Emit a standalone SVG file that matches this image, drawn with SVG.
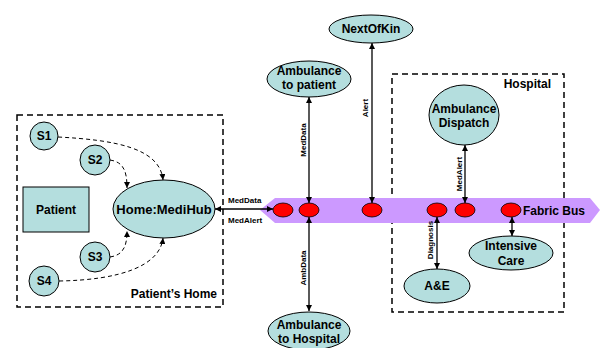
<svg xmlns="http://www.w3.org/2000/svg" width="602" height="348" viewBox="0 0 602 348">
<defs>
<style>
.node{fill:#b4dede;stroke:#000;stroke-width:1}
.t{font-family:"Liberation Sans",Arial,sans-serif;font-weight:bold;font-size:12px;fill:#000;text-anchor:middle}
.sm{font-family:"Liberation Sans",Arial,sans-serif;font-weight:bold;font-size:8px;fill:#000}
.rot{font-family:"Liberation Sans",Arial,sans-serif;font-weight:bold;font-size:8px;fill:#000;text-anchor:middle}
.box{fill:none;stroke:#000;stroke-width:1.5;stroke-dasharray:6,4}
.dash{fill:none;stroke:#000;stroke-width:1;stroke-dasharray:4,3}
.line{fill:none;stroke:#000;stroke-width:1.3}
.port{fill:#f00;stroke:#000;stroke-width:0.8}
</style>
<marker id="ah" viewBox="0 0 10 10" refX="10" refY="5" markerWidth="6" markerHeight="6" orient="auto-start-reverse" markerUnits="userSpaceOnUse">
<path d="M0,0 L10,5 L0,10 z" fill="#000"/>
</marker>
</defs>
<rect width="602" height="348" fill="#fff"/>

<g id="patients-home">
<rect class="box" x="17" y="115" width="206" height="192"/>
<text class="t" x="217" y="298" style="text-anchor:end">Patient’s Home</text>
</g>
<g id="hospital">
<rect class="box" x="392" y="74" width="172" height="238"/>
<text class="t" x="551" y="88" style="text-anchor:end">Hospital</text>
</g>

<g id="fabric-bus">
<polygon points="260,210 275,198 590,198 600,210 590,223 275,223" fill="#cc99ff"/>
<text class="t" x="523" y="215" style="text-anchor:start">Fabric Bus</text>
</g>

<g id="connectors">
<path class="dash" d="M58,137 C115,140 160,148 163,180" marker-end="url(#ah)"/>
<path class="dash" d="M110,160 C124,162 127,172 127,188" marker-end="url(#ah)"/>
<path class="dash" d="M110,257 C124,255 127,245 127,231" marker-end="url(#ah)"/>
<path class="dash" d="M59,281 C120,280 160,266 163,238" marker-end="url(#ah)"/>
<line class="line" x1="215" y1="209" x2="273" y2="209" marker-start="url(#ah)" marker-end="url(#ah)"/>
<line class="line" x1="309" y1="97" x2="309" y2="203" marker-start="url(#ah)" marker-end="url(#ah)"/>
<line class="line" x1="309" y1="217" x2="309" y2="311" marker-start="url(#ah)" marker-end="url(#ah)"/>
<line class="line" x1="372" y1="43" x2="372" y2="203" marker-start="url(#ah)" marker-end="url(#ah)"/>
<line class="line" x1="465" y1="145" x2="465" y2="203" marker-start="url(#ah)" marker-end="url(#ah)"/>
<line class="line" x1="437" y1="217" x2="437" y2="269" marker-start="url(#ah)" marker-end="url(#ah)"/>
<line class="line" x1="512" y1="217" x2="512" y2="236" marker-start="url(#ah)" marker-end="url(#ah)"/>
<text class="sm" x="228" y="203">MedData</text>
<text class="sm" x="228" y="223">MedAlert</text>
<text class="rot" x="306" y="140" transform="rotate(-90 306 140)">MedData</text>
<text class="rot" x="306" y="268" transform="rotate(-90 306 268)">AmbData</text>
<text class="rot" x="368" y="108" transform="rotate(-90 368 108)">Alert</text>
<text class="rot" x="462" y="174" transform="rotate(-90 462 174)">MedAlert</text>
<text class="rot" x="433" y="240" transform="rotate(-90 433 240)">Diagnosis</text>
</g>

<g id="ports">
<ellipse class="port" cx="283" cy="210" rx="10" ry="7"/>
<ellipse class="port" cx="309" cy="210" rx="10" ry="7"/>
<ellipse class="port" cx="372" cy="210" rx="10" ry="7"/>
<ellipse class="port" cx="437" cy="210" rx="10" ry="7"/>
<ellipse class="port" cx="465" cy="210" rx="10" ry="7"/>
<ellipse class="port" cx="511" cy="210" rx="10" ry="7"/>
</g>

<g id="s1"><circle class="node" cx="44" cy="136" r="14"/><text class="t" x="44" y="140">S1</text></g>
<g id="s2"><circle class="node" cx="95" cy="160" r="15"/><text class="t" x="95" y="164">S2</text></g>
<g id="s3"><circle class="node" cx="95" cy="257" r="15"/><text class="t" x="95" y="261">S3</text></g>
<g id="s4"><circle class="node" cx="44" cy="281" r="15"/><text class="t" x="44" y="285">S4</text></g>
<g id="patient"><rect class="node" x="23" y="187" width="66" height="45"/><text class="t" x="56" y="214">Patient</text></g>
<g id="medihub"><ellipse class="node" cx="164" cy="209" rx="51" ry="29"/><text class="t" x="164" y="214" style="font-size:13px">Home:MediHub</text></g>
<g id="amb-patient"><ellipse class="node" cx="309" cy="79" rx="42" ry="18"/><text class="t" x="309" y="75">Ambulance</text><text class="t" x="309" y="89">to patient</text></g>
<g id="nextofkin"><ellipse class="node" cx="371" cy="29" rx="42" ry="14"/><text class="t" x="371" y="33">NextOfKin</text></g>
<g id="amb-dispatch"><ellipse class="node" cx="464" cy="115" rx="35" ry="30"/><text class="t" x="464" y="113">Ambulance</text><text class="t" x="464" y="127">Dispatch</text></g>
<g id="ae"><ellipse class="node" cx="437" cy="286" rx="33" ry="17"/><text class="t" x="437" y="290">A&amp;E</text></g>
<g id="intensive-care"><ellipse class="node" cx="511" cy="253" rx="42" ry="17"/><text class="t" x="511" y="250">Intensive</text><text class="t" x="511" y="265">Care</text></g>
<g id="amb-hospital"><ellipse class="node" cx="309" cy="331" rx="41" ry="19"/><text class="t" x="309" y="329">Ambulance</text><text class="t" x="309" y="343">to Hospital</text></g>
</svg>
